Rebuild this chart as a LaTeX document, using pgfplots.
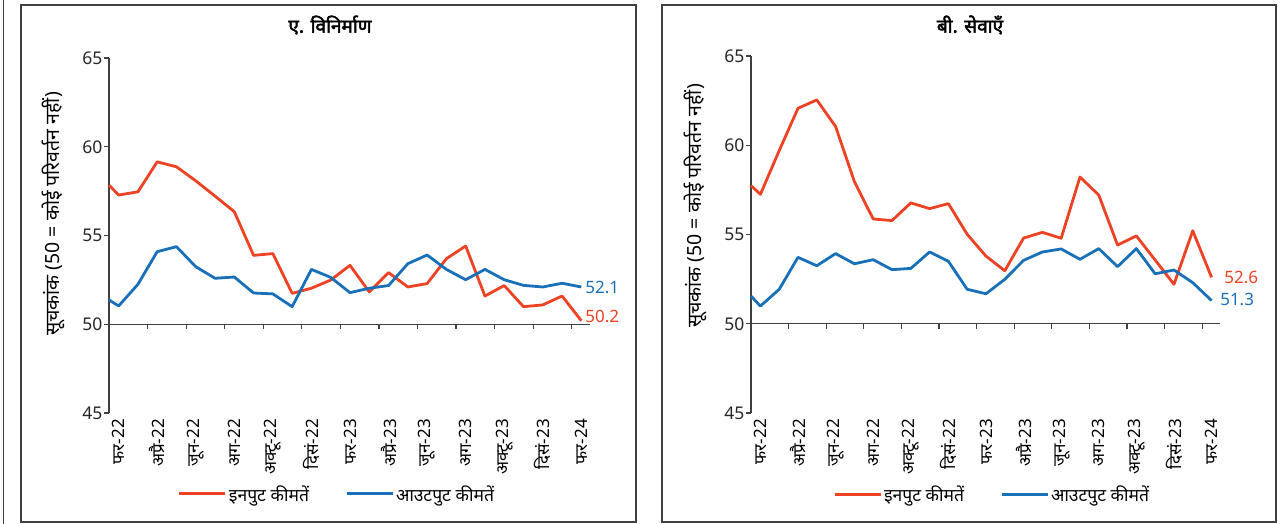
\documentclass[border=0pt]{standalone}
\usepackage{fontspec}
\setmainfont[Script=Devanagari, AutoFakeBold=2.5]{Noto Sans}
\usepackage{pgfplots}
\usepackage{pgfplotstable}
\pgfplotsset{compat=1.18}
\definecolor{inred}{RGB}{238,66,36}
\definecolor{outblue}{RGB}{24,112,184}
\definecolor{axgray}{RGB}{64,64,64}

% x: 0.5 = where the vertical axis crosses, 1 = Feb-22, ..., 25 = Feb-24
\pgfplotstableread{
x    in     out
0.5  57.84  51.37
1    57.28  51.03
2    57.46  52.25
3    59.15  54.09
4    58.87  54.37
5    58.08  53.24
6    57.22  52.59
7    56.34  52.66
8    53.88  51.76
9    53.98  51.71
10   51.74  50.99
11   52.03  53.09
12   52.49  52.64
13   53.32  51.78
14   51.82  52.03
15   52.91  52.18
16   52.10  53.41
17   52.29  53.90
18   53.69  53.09
19   54.41  52.51
20   51.59  53.09
21   52.18  52.51
22   50.99  52.19
23   51.09  52.10
24   51.59  52.31
25   50.20  52.10
}\mfg

\pgfplotstableread{
x    in     out
0.5  57.74  51.55
1    57.25  50.99
2    59.70  51.93
3    62.07  53.72
4    62.54  53.25
5    61.05  53.93
6    57.96  53.36
7    55.87  53.59
8    55.78  53.03
9    56.77  53.10
10   56.45  54.02
11   56.73  53.50
12   55.01  51.93
13   53.79  51.68
14   52.97  52.49
15   54.80  53.55
16   55.12  54.02
17   54.79  54.19
18   58.22  53.61
19   57.21  54.21
20   54.41  53.20
21   54.92  54.21
22   53.57  52.80
23   52.21  53.01
24   55.21  52.30
25   52.60  51.30
}\svc

\pgfplotsset{
  panel/.style={
    scale only axis, clip=false,
    xmin=0.5, xmax=25.45, ymin=45, ymax=65,
    ytick={45,50,55,60,65},
    xtick={1,3,...,25},
    xticklabels={फर-22,अप्रै-22,जून-22,अग-22,अक्टू-22,दिसं-22,फर-23,अप्रै-23,जून-23,अग-23,अक्टू-23,दिसं-23,फर-24},
    axis x line*=bottom, axis y line*=left,
    x axis line style={draw=none},
    major x tick style={draw=none},
    y axis line style={axgray, line width=1.2pt},
    major y tick style={axgray, line width=1.2pt},
    tick align=outside, major tick length=5pt,
    xticklabel style={rotate=90, anchor=east, font=\fontsize{17}{17}\selectfont, inner sep=1pt},
    yticklabel style={font=\fontsize{17.5}{17.5}\selectfont, text=black!85, xshift=2pt},
    /pgf/number format/assume math mode=true,
    legend style={draw=none, fill=none, legend columns=2, anchor=center,
      font=\fontsize{17.5}{17.5}\selectfont,
      /tikz/every even column/.append style={column sep=34pt}},
    legend image code/.code={\draw[#1, line width=3pt] (0pt,0pt) -- (46pt,0pt);},
  },
}

\begin{document}
\begin{tikzpicture}
\path[use as bounding box] (0pt,0pt) rectangle (1284pt,524pt);
\draw[axgray, line width=1pt] (3pt,0pt) -- (3pt,524pt);
\draw[axgray, line width=1.3pt] (21pt,2pt) rectangle (636pt,519pt);
\draw[axgray, line width=1.3pt] (662pt,2pt) rectangle (1276pt,519pt);

\node[font=\bfseries\fontsize{19}{19}\selectfont] at (330pt,499pt) {ए. विनिर्माण};
\node[font=\bfseries\fontsize{19}{19}\selectfont] at (970pt,499pt) {बी. सेवाएँ};

\node[rotate=90, font=\fontsize{19.5}{19.5}\selectfont] at (53pt,310pt) {सूचकांक (50 = कोई परिवर्तन नहीं)};
\node[rotate=90, font=\fontsize{19.5}{19.5}\selectfont] at (695pt,318pt) {सूचकांक (50 = कोई परिवर्तन नहीं)};

\begin{axis}[panel, at={(109pt,111pt)}, anchor=south west, width=481pt, height=355pt,
  legend style={at={(0.474,-0.228)}}]
  \addplot[draw=inred, line width=2.8pt, line join=round] table[x=x, y=in] {\mfg};
  \addlegendentry{इनपुट कीमतें}
  \addplot[draw=outblue, line width=2.8pt, line join=round] table[x=x, y=out] {\mfg};
  \addlegendentry{आउटपुट कीमतें}
  \draw[axgray, line width=1.2pt] (axis cs:0.5,50) -- (axis cs:25.45,50);
  \pgfplotsinvokeforeach{0.5,2.5,4.5,6.5,8.5,10.5,12.5,14.5,16.5,18.5,20.5,22.5,24.5}{
    \draw[axgray, line width=1.2pt] (axis cs:#1,50) -- ++(0pt,-5pt);
  }
  \node[anchor=west, text=outblue, font=\fontsize{17}{17}\selectfont, inner sep=1pt] at (axis cs:25.15,52.05) {52.1};
  \node[anchor=west, text=inred, font=\fontsize{17}{17}\selectfont, inner sep=1pt] at (axis cs:25.15,50.45) {50.2};
\end{axis}

\begin{axis}[panel, at={(751pt,111pt)}, anchor=south west, width=469pt, height=357pt,
  legend style={at={(0.514,-0.228)}}]
  \addplot[draw=inred, line width=2.8pt, line join=round] table[x=x, y=in] {\svc};
  \addlegendentry{इनपुट कीमतें}
  \addplot[draw=outblue, line width=2.8pt, line join=round] table[x=x, y=out] {\svc};
  \addlegendentry{आउटपुट कीमतें}
  \draw[axgray, line width=1.2pt] (axis cs:0.5,50) -- (axis cs:25.45,50);
  \pgfplotsinvokeforeach{0.5,2.5,4.5,6.5,8.5,10.5,12.5,14.5,16.5,18.5,20.5,22.5,24.5}{
    \draw[axgray, line width=1.2pt] (axis cs:#1,50) -- ++(0pt,-5pt);
  }
  \node[anchor=west, text=inred, font=\fontsize{17}{17}\selectfont, inner sep=1pt] at (axis cs:25.62,52.58) {52.6};
  \node[anchor=west, text=outblue, font=\fontsize{17}{17}\selectfont, inner sep=1pt] at (axis cs:25.4,51.34) {51.3};
\end{axis}
\end{tikzpicture}
\end{document}
